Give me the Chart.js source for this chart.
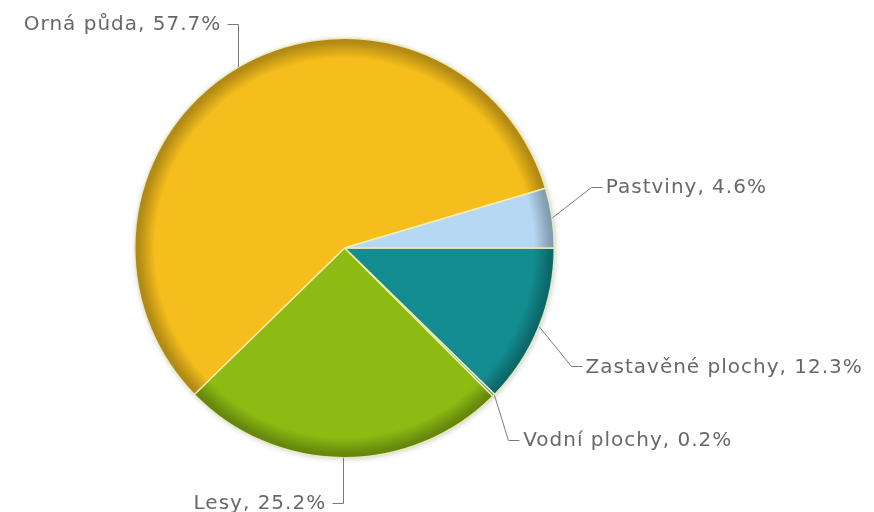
<!DOCTYPE html>
<html>
<head>
<meta charset="utf-8">
<script src="https://cdn.jsdelivr.net/npm/chart.js@4"></script>
<style>
  html, body { margin: 0; padding: 0; background: #fff; }
  #wrap { width: 874px; height: 512px; }
</style>
</head>
<body>
<div id="wrap"><canvas id="landChart" width="874" height="512"></canvas></div>
<script>
// slices go clockwise from 3 o'clock
const categories = ['Zastavěné plochy', 'Vodní plochy', 'Lesy', 'Orná půda', 'Pastviny'];
const shares = [12.3, 0.2, 25.2, 57.7, 4.6];
const sliceColors = ['#138d90', '#6aa6c8', '#8dbb12', '#f5be1c', '#b6d8f4'];

function shade(hex, f) {
  const n = parseInt(hex.slice(1), 16);
  const r = Math.round(((n >> 16) & 255) * f);
  const g = Math.round(((n >> 8) & 255) * f);
  const b = Math.round((n & 255) * f);
  return `rgb(${r},${g},${b})`;
}

// darker rim towards the outer edge
function rimGradient(ctx) {
  const chart = ctx.chart;
  const base = sliceColors[ctx.dataIndex];
  const area = chart.chartArea;
  if (!area) return base;
  const cx = (area.left + area.right) / 2;
  const cy = (area.top + area.bottom) / 2;
  const r = Math.min(area.right - area.left, area.bottom - area.top) / 2;
  const g = chart.ctx.createRadialGradient(cx, cy, 0, cx, cy, r);
  g.addColorStop(0, base);
  g.addColorStop(0.9, base);
  g.addColorStop(0.975, shade(base, 0.74));
  g.addColorStop(1, shade(base, 0.7));
  return g;
}

// soft shadow under the whole pie
const pieShadow = {
  id: 'pieShadow',
  beforeDatasetsDraw(chart) {
    const arc = chart.getDatasetMeta(0).data[0];
    if (!arc) return;
    const c = chart.ctx;
    c.save();
    c.shadowColor = 'rgba(0,0,0,0.3)';
    c.shadowBlur = 6;
    c.shadowOffsetX = 1;
    c.shadowOffsetY = 1;
    c.fillStyle = '#fff';
    c.beginPath();
    c.arc(arc.x, arc.y, arc.outerRadius - 1, 0, Math.PI * 2);
    c.fill();
    c.restore();
  }
};

// elbow labels with leader lines
const sliceLabels = {
  id: 'sliceLabels',
  afterDatasetsDraw(chart) {
    const c = chart.ctx;
    const meta = chart.getDatasetMeta(0);
    c.save();
    c.font = '20px "DejaVu Sans", Verdana, sans-serif';
    c.letterSpacing = '1px';
    c.fillStyle = '#686868';
    c.strokeStyle = '#7a7a7a';
    c.lineWidth = 1;
    c.textBaseline = 'middle';
    meta.data.forEach((arc, i) => {
      const mid = (arc.startAngle + arc.endAngle) / 2;
      const cos = Math.cos(mid), sin = Math.sin(mid);
      const x0 = arc.x + arc.outerRadius * cos;
      const y0 = arc.y + arc.outerRadius * sin;
      const dx = 40 * Math.pow(Math.max(0, cos), 3);
      const dy = Math.sign(sin) * (43 - 14 * Math.pow(Math.abs(cos), 12)) + (sin > 0 ? 2 : 0);
      const x1 = x0 + dx, y1 = y0 + dy;
      const right = cos > 0;
      const x2 = x1 + (right ? 11 : -11);
      c.beginPath();
      c.moveTo(Math.round(x0) + 0.5, y0);
      c.lineTo(Math.round(x1) + 0.5, Math.round(y1) + 0.5);
      c.lineTo(Math.round(x2) + 0.5, Math.round(y1) + 0.5);
      c.stroke();
      const text = `${categories[i]}, ${shares[i].toFixed(1)}%`;
      c.textAlign = right ? 'left' : 'right';
      c.fillText(text, x2 + (right ? 4 : -6), y1 + 1);
    });
    c.restore();
  }
};

new Chart(document.getElementById('landChart'), {
  type: 'pie',
  data: {
    labels: categories,
    datasets: [{
      data: shares,
      backgroundColor: rimGradient,
      borderColor: 'rgba(240,240,190,0.9)',
      borderWidth: 1.5
    }]
  },
  options: {
    responsive: false,
    animation: false,
    rotation: 90,
    layout: { padding: { left: 134, right: 319, top: 37, bottom: 53 } },
    plugins: {
      legend: { display: false },
      tooltip: { enabled: false }
    }
  },
  plugins: [pieShadow, sliceLabels]
});
</script>
</body>
</html>
